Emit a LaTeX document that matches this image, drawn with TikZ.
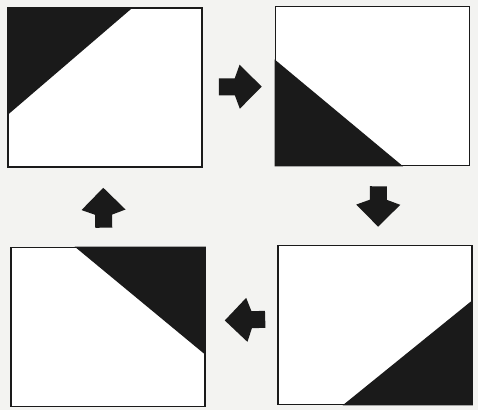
\documentclass[tikz,border=0pt]{standalone}
\usetikzlibrary{arrows.meta,calc}
\definecolor{ScanBlack}{HTML}{1A1A1A}
\definecolor{ScanPaper}{HTML}{F3F3F1}
\tikzset{
    % Panel style
    panel/.style={
        draw=ScanBlack,
        fill=white,
        line width=0.8pt,
        minimum width=97pt,
        minimum height=79.5pt,
        inner sep=0pt
    },
    % Black wedge
    wedge/.style={
        fill=ScanBlack
    },
    % Block arrow
    blockarrow/.style={
        -{Kite[length=15pt,width=22pt,inset=4pt]},
        line width=8.5pt,
        draw=ScanBlack
    }
}
\begin{document}
\begin{tikzpicture}[x=0.5pt, y=-0.5pt]
        \fill[ScanPaper] (0,0) rectangle (478,410);
        \useasboundingbox (0,0) rectangle (478,410);

        % Panels
        \node[panel] (tl) at (105,87.5) {};
        \node[panel] (tr) at (372.5,86) {};
        \node[panel] (bl) at (108,327) {};
        \node[panel] (br) at (375,325) {};

        % Wedges
        \fill[wedge] (tl.north west) -- ($(tl.north west)!0.644!(tl.north east)$) -- ($(tl.north west)!0.673!(tl.south west)$) -- cycle;
        \fill[wedge] (tr.south west) -- ($(tr.south west)!0.665!(tr.north west)$) -- ($(tr.south west)!0.656!(tr.south east)$) -- cycle;
        \fill[wedge] (bl.north east) -- ($(bl.north east)!0.67!(bl.north west)$) -- ($(bl.north east)!0.675!(bl.south east)$) -- cycle;
        \fill[wedge] (br.south east) -- ($(br.south east)!0.665!(br.south west)$) -- ($(br.south east)!0.656!(br.north east)$) -- cycle;

        % Arrows
        \draw[blockarrow, shorten <=8pt, shorten >=6.5pt] (tl) -- (tr);
        \draw[blockarrow, shorten <=10pt, shorten >=9pt] ([xshift=3pt]tr.south) -- ([xshift=1.5pt]br.north);
        \draw[blockarrow, shorten <=6pt, shorten >=9.5pt] ([yshift=3pt]br.west) -- ([yshift=3pt]bl.east);
        \draw[blockarrow, shorten <=9.5pt, shorten >=10pt] ([xshift=-2pt]bl.north) -- ([xshift=-1pt]tl.south);
    \end{tikzpicture}
\end{document}
